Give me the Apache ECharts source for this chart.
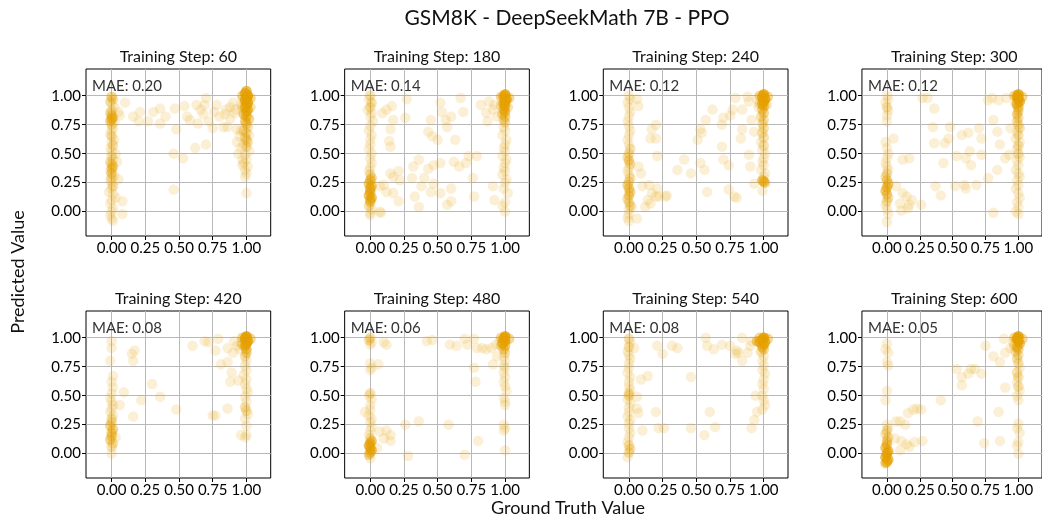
<!DOCTYPE html>
<html>
<head>
<meta charset="utf-8">
<script src="https://cdn.jsdelivr.net/npm/echarts@6/dist/echarts.min.js"></script>
<style>
  html, body { margin: 0; padding: 0; background: #fff; }
  #chart { width: 1042px; height: 516px; }
</style>
</head>
<body>
<div id="chart"></div>
<script>
// Figure text
const figureTitle = 'GSM8K - DeepSeekMath 7B - PPO';
const xAxisTitle = 'Ground Truth Value';
const yAxisTitle = 'Predicted Value';

// Panels: training step and mean absolute error
const trainingSteps = [60, 180, 240, 300, 420, 480, 540, 600];
const maeValues = ['0.20', '0.14', '0.12', '0.12', '0.08', '0.06', '0.08', '0.05'];

// Tick values shared by every panel
const xTickValues = [0, 0.25, 0.5, 0.75, 1];
const yTickValues = [0, 0.25, 0.5, 0.75, 1];

// Samples per panel: [groundTruth, predicted] or [groundTruth, predicted, count]
const step60 = [
  [0,0.99,3],[0.01,0.97,2],[-0.01,0.95,2],[0,0.93],[0.02,0.90],[0,0.87,2],[-0.01,0.85,2],[0,0.83,3],[0.01,0.81,3],[0,0.80,4],
  [-0.01,0.78,3],[0.02,0.77],[0,0.75,2],[0.01,0.72],[0,0.70],[-0.01,0.67],[0,0.65,2],[0.02,0.62],[0,0.60],[0.01,0.57,2],
  [-0.01,0.55],[0,0.52],[0.03,0.50],[0,0.48,2],[0.01,0.45],[-0.01,0.43,2],[0,0.41,2],[0.01,0.39,3],[0,0.37,3],[-0.01,0.35],
  [0,0.33,3],[0.02,0.31],[0,0.29,2],[-0.01,0.27],[0,0.25],[0.01,0.22,2],[0,0.20],[-0.02,0.17],[0.01,0.15],[0.03,0.12],
  [0,0.10],[-0.01,0.07],[0.01,0.03],[0,0.0],[-0.01,-0.03],[0,-0.06],[0.01,-0.08],
  [0.08,0.09],[0.08,-0.02],[0.05,0.86],[0.06,0.83],[0.04,0.43],[0.05,0.28],
  [0.10,0.94],[0.16,0.82],[0.21,0.86],[0.20,0.78],[0.27,0.78],[0.31,0.86],[0.36,0.89],[0.40,0.82],[0.47,0.89],[0.54,0.91],
  [0.56,0.82],[0.63,0.92],[0.68,0.84],[0.69,0.92],[0.70,0.98],[0.72,0.78],[0.78,0.92],[0.80,0.82],[0.83,0.73],[0.85,0.88],
  [0.90,0.94],[0.91,0.85],[0.88,0.80],[0.86,0.73],[0.93,0.71],[0.70,0.58],[0.62,0.55],[0.46,0.50],[0.53,0.46],[0.46,0.19],
  [0.58,0.79],[0.48,0.71],[0.64,0.76],[0.75,0.72],[0.36,0.76],[0.88,0.90],[0.92,0.88],[0.84,0.84],[0.76,0.86],[0.66,0.88],
  [1.0,1.04,6],[0.99,1.02,7],[1.01,1.0,8],[1.0,0.98,8],[0.99,0.96,7],[1.01,0.94,7],[1.0,0.92,6],[0.99,0.90,5],[1.01,0.88,5],
  [1.0,0.86,5],[0.98,0.84,4],[1.0,0.82,4],[1.02,0.80,3],[0.99,0.78,3],[1.0,0.76,3],[1.01,0.73,2],[0.98,0.70,2],[1.0,0.68,2],
  [1.02,0.66],[0.99,0.64,2],[1.0,0.62,2],[1.01,0.60,2],[0.98,0.58],[1.0,0.56,2],[1.02,0.52],[0.99,0.49],[1.0,0.45],[0.98,0.42],
  [1.01,0.39],[0.99,0.36],[1.0,0.33],[0.99,0.30],[1.0,0.16],[0.97,1.0,3],[1.03,0.98,3],[0.97,0.9,2],[1.03,0.9,2],
  [0.95,0.65],[0.93,0.60],[0.96,0.55],[0.94,0.50],[0.97,0.45],[0.96,0.70],[0.97,0.40],[0.97,0.97],[0.96,0.92]
];

const step180 = [
  [0,1.0,2],[-0.01,0.97],[0.01,0.94,2],[0,0.90,2],[-0.02,0.88],[0.01,0.85],[0,0.82],[0.02,0.78],[0,0.74],[-0.01,0.70],
  [0.01,0.66],[0,0.62],[0,0.58],[-0.01,0.54],[0.01,0.50],[0,0.46],[0.01,0.42],[0,0.38],[-0.01,0.35],[0,0.32,2],[0.01,0.29,3],
  [0,0.27,4],[-0.01,0.24,4],[0.01,0.22,4],[0,0.20,5],[0,0.17,5],[-0.01,0.14,5],[0.01,0.12,5],[0,0.10,4],[0,0.08,3],
  [-0.01,0.05,2],[0.01,0.02],[0,-0.01],[0,-0.03],
  [0.08,-0.01],[0.09,0.85],[0.12,0.88],[0.16,0.91],[0.17,0.79],[0.26,0.81],[0.27,0.97],[0.15,0.71],[0.14,0.61],[0.15,0.56],
  [0.07,0.22],[0.10,0.23],[0.15,0.33],[0.17,0.30],[0.21,0.35],[0.22,0.27],[0.17,0.16],[0.21,0.09],[0.12,0.17],[0.07,0.0],
  [0.31,0.29],[0.32,0.39],[0.36,0.45],[0.38,0.22],[0.40,0.29],[0.36,0.04],[0.43,0.69],[0.45,0.79],[0.46,0.65],[0.50,0.62],
  [0.47,0.40],[0.52,0.42],[0.52,0.94],[0.53,0.86],[0.56,0.79],[0.57,0.73],[0.60,0.82],[0.63,0.62],[0.62,0.43],[0.66,0.39],
  [0.57,0.06],[0.60,0.09],[0.67,0.98],[0.69,0.86],[0.71,0.42],[0.73,0.48],[0.76,0.29],[0.77,0.13],[0.79,0.48],[0.60,0.20],
  [0.47,0.24],[0.52,0.16],[0.33,0.13],[0.43,0.37],[0.45,0.17],
  [0.82,0.92],[0.87,0.78],[0.88,0.95],[0.91,0.88],[0.86,0.85],[0.92,0.92],[0.94,0.82],[0.92,0.10],[0.91,0.22],
  [1.0,1.01,9],[0.99,0.99,9],[1.01,0.97,8],[1.0,0.95,8],[0.99,0.93,7],[1.0,0.91,6],[0.99,0.88,5],[1.0,0.86,4],[0.98,0.84,3],
  [1.0,0.82,3],[0.99,0.79,2],[1.0,0.77,2],[0.99,0.73],[1.0,0.70],[0.98,0.66],[1.01,0.62],[1.0,0.58],[0.99,0.55],[1.0,0.52],
  [0.98,0.48],[1.01,0.45],[1.0,0.42],[0.99,0.38],[1.0,0.35],[0.98,0.32],[1.01,0.28],[1.0,0.25],[0.99,0.20],[1.02,0.16],
  [1.0,0.08],[0.98,0.05],[1.0,0.0],[0.97,0.99,3],[1.03,0.98,3],[0.97,0.92,2],[1.02,0.9,2]
];

const step240 = [
  [0,1.0],[0.01,0.97],[-0.01,0.94],[0,0.90],[0.01,0.86],[0,0.82],[-0.01,0.78],[0,0.74],[0.01,0.70],[0,0.66],[-0.01,0.62],
  [0,0.58],[0.01,0.54,2],[0,0.50,2],[-0.01,0.47,2],[0,0.44,3],[0.01,0.41,2],[0,0.38],[-0.01,0.35],[0,0.32],[0.01,0.29,2],
  [0,0.26,2],[-0.01,0.23,3],[0,0.20,3],[0.01,0.17,3],[0,0.14,3],[-0.01,0.11,2],[0,0.08,2],[0.01,0.05,2],[0,0.02],[0,-0.02],
  [-0.01,-0.05],[0,-0.08],
  [0.06,0.97],[0.07,0.91],[0.02,0.04],[0.06,-0.06],[0.07,0.39],[0.09,0.33],
  [0.10,0.22],[0.15,0.23],[0.17,0.16],[0.20,0.13],[0.14,0.10],[0.12,0.04],[0.22,0.13],[0.27,0.13],[0.28,0.14],[0.16,0.07],
  [0.21,0.20],[0.17,0.71],[0.20,0.75],[0.16,0.63],[0.20,0.63],[0.21,0.48],
  [0.36,0.36],[0.41,0.45],[0.46,0.33],[0.51,0.62],[0.53,0.71],[0.54,0.68],[0.57,0.79],[0.62,0.88],[0.53,0.42],[0.56,0.36],
  [0.58,0.17],[0.69,0.75],[0.70,0.81],[0.69,0.56],[0.70,0.45],[0.74,0.40],[0.75,0.83],[0.77,0.88],[0.74,0.19],[0.78,0.13],
  [0.80,0.12],[0.79,0.98],[0.84,0.88],[0.83,0.63],[0.84,0.71],[0.88,0.99],[0.89,0.95],[0.91,0.79],[0.93,0.69],[0.90,0.39],
  [0.93,0.24],[0.89,0.49],[0.95,0.97],[0.96,0.90],
  [1.0,1.01,10],[0.99,0.99,9],[1.01,0.97,8],[1.0,0.95,7],[0.99,0.93,6],[1.0,0.91,4],[0.99,0.88,3],[1.0,0.85,3],[0.98,0.82,2],
  [1.0,0.79,2],[0.99,0.76,2],[1.0,0.72,2],[0.99,0.68,2],[1.0,0.64,2],[0.98,0.60],[1.0,0.57,2],[0.99,0.53],[1.01,0.50],
  [1.0,0.46],[0.99,0.43],[1.0,0.40],[0.98,0.36],[1.01,0.33],[1.0,0.30],[0.99,0.27,4],[1.0,0.26,4],[1.01,0.25,3],[0.99,0.18],
  [0.97,1.0,3],[1.03,0.99,3],[0.97,0.93,2],[1.02,0.92,2]
];

const step300 = [
  [0,1.0],[0.01,0.97],[-0.01,0.94],[0,0.90,2],[0.01,0.87],[0,0.83],[0,0.78],[-0.01,0.60],[0,0.55],[0.01,0.50],[0,0.46],
  [-0.01,0.42],[0,0.39],[0.01,0.36],[0,0.33,2],[-0.01,0.30,2],[0,0.27,3],[0.01,0.24,4],[0,0.21,4],[-0.01,0.18,4],
  [0,0.15,3],[0.01,0.12,2],[0,0.09,2],[-0.01,0.06],[0,0.02],[0.01,-0.02],[0,-0.09],
  [0.10,0.07],[0.12,0.16],[0.15,0.13],[0.17,0.06],[0.19,0.10],[0.11,0.01],[0.16,0.03],[0.26,0.06],[0.07,0.22],[0.12,0.45],
  [0.17,0.46],[0.05,0.63],
  [0.27,0.98],[0.31,0.98],[0.36,0.89],[0.35,0.73],[0.36,0.59],[0.44,0.59],[0.47,0.63],[0.48,0.73],[0.43,0.42],[0.37,0.22],
  [0.41,0.14],[0.52,0.22],[0.57,0.66],[0.62,0.68],[0.53,0.48],[0.60,0.46],[0.63,0.52],[0.59,0.23],[0.60,0.20],[0.68,0.23],
  [0.64,0.40],[0.70,0.72],[0.72,0.63],[0.72,0.49],[0.77,0.29],[0.77,0.96],[0.80,0.98],[0.81,0.79],[0.84,0.69],[0.86,0.58],
  [0.84,0.36],[0.81,-0.01],[0.90,0.46],[0.93,0.49],[0.85,0.96],[0.91,0.98],[0.94,0.72],
  [1.0,1.01,10],[0.99,0.99,9],[1.0,0.97,8],[1.01,0.95,7],[0.99,0.93,5],[1.0,0.90,4],[1.0,0.87,3],[0.99,0.84,3],[1.0,0.81,2],
  [0.99,0.78,2],[1.0,0.75,2],[1.01,0.72,2],[0.99,0.69],[1.0,0.66,2],[0.98,0.63],[1.01,0.60],[1.0,0.57,2],[0.99,0.54],
  [1.0,0.50,2],[1.01,0.47],[0.99,0.44],[1.0,0.40],[0.98,0.36],[1.0,0.33],[1.01,0.30],[0.99,0.27],[1.0,0.23],[0.98,0.20],
  [1.0,0.16],[1.01,0.12],[0.99,0.08],[1.0,0.04],[0.98,0.0],[1.0,-0.02],[0.97,1.0,3],[1.03,0.99,3],[0.98,0.93,2]
];

const step420 = [
  [0,0.97],[0,0.91],[-0.01,0.80],[0.01,0.67],[0,0.62],[0.01,0.57],[0,0.52],[-0.01,0.48],[0,0.45],[0.01,0.42],[0,0.39],
  [-0.01,0.36],[0.01,0.33],[0,0.30,2],[0,0.27,2],[-0.01,0.24,3],[0.01,0.21,3],[0,0.18,3],[0,0.15,3],[-0.01,0.12,3],
  [0.01,0.09,2],[0,0.06,2],[0.03,0.14],[0,0.0],
  [0.06,0.42],[0.09,0.53],[0.15,0.86],[0.17,0.89],[0.16,0.80],[0.16,0.32],[0.22,0.46],[0.30,0.60],[0.36,0.49],[0.48,0.38],
  [0.60,0.93],[0.69,0.97],[0.72,0.96],[0.79,0.99],[0.77,0.89],[0.75,0.33],[0.77,0.33],[0.81,0.77],[0.86,0.79],[0.89,0.70],
  [0.88,0.62],[0.86,0.39],[0.90,0.87],[0.86,0.91],[0.93,0.93],[0.91,0.97],[0.96,0.16],[0.94,0.63],[0.95,0.90],[0.96,0.96],
  [1.0,1.01,11],[0.99,0.99,10],[1.01,0.97,8],[1.0,0.95,7],[0.99,0.93,5],[1.0,0.90,4],[1.0,0.87,3],[0.99,0.84,2],[1.0,0.80],
  [0.99,0.76],[1.0,0.72],[0.98,0.68],[1.0,0.64],[0.99,0.60],[1.0,0.56],[1.01,0.53],[0.99,0.49],[1.0,0.45],[0.99,0.40,2],
  [1.0,0.37,2],[1.01,0.34],[0.99,0.30],[1.0,0.24],[1.0,0.16],[0.99,0.14],[0.97,1.0,3],[1.03,0.99,3],[0.97,0.94,2]
];

const step480 = [
  [0,1.0,2],[-0.01,0.98,2],[0.01,0.96],[0,0.94],[0,0.78],[0.01,0.74],[0,0.72],[0,0.52,2],[-0.01,0.50],[0.01,0.47],[0,0.42],
  [0,0.38],[-0.01,0.33],[0.01,0.30],[0,0.27],[0.01,0.23],[0,0.20],[-0.01,0.16],[0,0.13,2],[0.01,0.11,4],[0,0.09,5],
  [-0.01,0.07,5],[0,0.05,5],[0.01,0.03,5],[0,0.01,4],[-0.01,-0.01,3],[0,-0.04],
  [0.10,0.96],[0.12,0.94],[0.06,0.77],[-0.04,0.36],[0.07,0.19],[0.12,0.20],[0.15,0.16],[0.10,0.13],[0.15,0.11],[0.05,0.05],
  [0.28,-0.02],[0.26,0.25],[0.36,0.28],[0.58,0.25],[0.70,-0.01],[0.80,0.11],[0.42,0.97],[0.46,0.98],[0.59,0.94],[0.64,0.93],
  [0.70,0.99],[0.72,0.94],[0.77,0.99],[0.79,0.91],[0.83,0.91],[0.86,0.90],[0.90,0.91],[0.93,0.94],[0.77,0.74],[0.78,0.62],
  [0.91,0.77],[0.94,0.84],[0.96,0.97],
  [1.0,1.01,11],[0.99,0.99,10],[1.0,0.97,8],[0.98,0.95,6],[1.0,0.93,4],[0.99,0.90,3],[1.0,0.87,2],[0.99,0.84],[1.0,0.80],
  [0.99,0.76],[1.0,0.74],[0.99,0.70],[1.0,0.66],[0.99,0.62],[1.0,0.58],[1.01,0.54],[0.99,0.48],[1.0,0.45],[1.0,0.42],
  [0.99,0.25],[1.0,0.22],[0.99,0.20],[1.0,0.03],[0.97,1.0,3],[1.03,0.99,3],[0.97,0.93,2]
];

const step540 = [
  [0,0.99,2],[0.01,0.96],[0,0.92,2],[-0.01,0.88],[0,0.85],[0.01,0.82],[0,0.78],[0,0.74],[-0.01,0.70],[0.01,0.66],[0,0.62],
  [0,0.58],[0.01,0.55],[0,0.52,2],[0,0.50,2],[-0.01,0.47],[0.01,0.44],[0,0.40],[0,0.36],[-0.01,0.32],[0.01,0.29],[0,0.26],
  [0,0.22],[0.01,0.18],[0,0.14],[-0.01,0.10],[0,0.07,2],[0.01,0.04,2],[0,0.01,2],[-0.01,-0.03],
  [0.04,0.91],[0.09,0.64],[0.14,0.67],[0.06,0.49],[0.06,0.39],[0.07,0.35],[0.10,0.20],[0.20,0.36],[0.21,0.93],[0.25,0.86],
  [0.26,0.22],[0.32,0.93],[0.36,0.91],[0.22,0.22],[0.46,0.66],[0.46,0.22],[0.56,0.16],[0.57,1.0],[0.58,0.93],[0.60,0.36],
  [0.63,0.90],[0.64,0.23],[0.69,0.94],[0.75,0.93],[0.79,0.86],[0.80,0.89],[0.81,0.87],[0.84,1.0],[0.84,0.80],[0.88,0.87],
  [0.90,0.93],[0.91,0.22],[0.93,0.29],[0.95,0.36],[0.94,0.50],[0.91,0.97],
  [1.0,1.0,11],[0.99,0.98,10],[0.97,0.96,6],[1.01,0.96,6],[0.95,0.97,4],[1.0,0.94,5],[0.99,0.92,4],[1.0,0.90,3],[0.98,0.88,2],
  [1.0,0.84],[0.99,0.80],[1.0,0.76],[0.99,0.72],[1.01,0.69],[1.0,0.64],[0.99,0.60],[1.0,0.56],[0.99,0.50],[1.0,0.46],
  [1.01,0.42],[0.99,0.38],[1.03,0.99,3],[0.97,1.0,3]
];

const step600 = [
  [0,0.95],[-0.01,0.90],[0.01,0.87],[0,0.79],[0.01,0.76],[0,0.54],[-0.01,0.46],[0,0.25],[0.01,0.22],[0,0.20,2],
  [-0.01,0.17,2],[0.01,0.14,2],[0,0.11,3],[0,0.08,4],[-0.01,0.05,5],[0.01,0.02,6],[0,0,7],[-0.01,-0.03,7],[0.01,-0.05,6],
  [0,-0.07,5],[-0.01,-0.08,4],
  [0.07,0.28],[0.10,0.28],[0.14,0.25],[0.06,0.13],[0.11,0.11],[0.15,0.08],[0.17,0.06],[0.21,0.10],[0.10,0.03],[0.16,0.35],
  [0.20,0.38],[0.23,0.39],[0.26,0.38],[0.27,0.11],[0.41,0.46],[0.53,0.73],[0.57,0.66],[0.57,0.59],[0.62,0.69],[0.64,0.73],
  [0.67,0.73],[0.72,0.69],[0.69,0.28],[0.74,0.09],[0.75,0.93],[0.85,0.36],[0.86,0.11],[0.81,0.84],[0.86,0.79],[0.90,0.57],
  [0.89,0.99],[0.90,0.87],[0.94,0.91],[0.96,0.96],
  [1.0,1.01,11],[0.99,0.99,10],[1.0,0.97,8],[1.01,0.95,5],[0.99,0.92,4],[1.0,0.90,3],[0.98,0.88,2],[1.0,0.85,2],[0.99,0.82,2],
  [1.0,0.78,2],[1.01,0.74],[0.99,0.70,2],[1.0,0.66,2],[0.99,0.62],[1.0,0.58,2],[1.01,0.54],[0.99,0.50],[1.0,0.46],
  [1.0,0.26],[0.99,0.22],[1.01,0.18],[1.0,0.10],[0.99,0.07],[1.0,0.0],[0.97,1.0,3],[1.03,0.99,3],[0.97,0.93,2]
];

const panelSamples = [step60, step180, step240, step300, step420, step480, step540, step600];

// Expand [x, y, count] rows into individual samples
function expandSamples(rows) {
  const out = [];
  rows.forEach(r => {
    const n = r.length > 2 ? r[2] : 1;
    for (let k = 0; k < n; k++) out.push([r[0], r[1]]);
  });
  return out;
}

// Layout of the 2 x 4 panel grid (pixels)
const panelLeft0 = 86, panelStepX = 258.65, panelW = 184.7, panelH = 167;
const panelTops = [69, 311];
const fontFamily = 'Lato, "DejaVu Sans", sans-serif';
const pointColor = 'rgba(230, 159, 0, 0.2)';

const grids = [], xAxes = [], yAxes = [], series = [], titles = [];

titles.push({
  text: figureTitle, left: 567, top: 8, textAlign: 'center', padding: 0,
  textStyle: { fontFamily, fontSize: 21, fontWeight: 'normal', color: '#111' }
});

function axisStyle(gridIndex, min, max, ticks) {
  return {
    type: 'value', gridIndex, min, max,
    axisLine: { show: false, onZero: false },
    axisTick: { show: true, length: 4, customValues: ticks, lineStyle: { color: '#000', width: 1 } },
    axisLabel: { customValues: ticks, formatter: v => v.toFixed(2), fontFamily, fontSize: 15, color: '#000', margin: 5 },
    splitLine: { show: true, lineStyle: { color: '#b8b8b8', width: 1 } }
  };
}

trainingSteps.forEach((step, i) => {
  const col = i % 4, row = Math.floor(i / 4);
  const left = panelLeft0 + col * panelStepX;
  const top = panelTops[row];
  grids.push({
    left, top, width: panelW, height: panelH,
    show: true, borderColor: '#000', borderWidth: 1, backgroundColor: 'transparent'
  });
  xAxes.push(axisStyle(i, -0.19, 1.18, xTickValues));
  yAxes.push(axisStyle(i, -0.21, 1.23, yTickValues));
  series.push({
    type: 'scatter', xAxisIndex: i, yAxisIndex: i,
    data: expandSamples(panelSamples[i]),
    symbol: 'circle', symbolSize: 10.5, silent: true, animation: false,
    itemStyle: { color: pointColor }
  });
  titles.push({
    text: 'Training Step: ' + step, left: left + panelW / 2, top: top - 20, textAlign: 'center', padding: 0,
    textStyle: { fontFamily, fontSize: 16, fontWeight: 'normal', color: '#111' }
  });
  titles.push({
    text: 'MAE: ' + maeValues[i], left: left + 6, top: top + 10, padding: 0,
    textStyle: { fontFamily, fontSize: 15, fontWeight: 'normal', color: '#333' }
  });
});

const chart = echarts.init(document.getElementById('chart'), null, { renderer: 'canvas' });
chart.setOption({
  backgroundColor: '#fff',
  animation: false,
  title: titles,
  grid: grids,
  xAxis: xAxes,
  yAxis: yAxes,
  series,
  graphic: [
    { type: 'text', x: 18, y: 272, rotation: Math.PI / 2,
      style: { text: yAxisTitle, fontFamily, fontSize: 18, fill: '#111', textAlign: 'center', textVerticalAlign: 'middle' } },
    { type: 'text', x: 568, y: 508,
      style: { text: xAxisTitle, fontFamily, fontSize: 18, fill: '#111', textAlign: 'center', textVerticalAlign: 'middle' } }
  ]
});
</script>
</body>
</html>
